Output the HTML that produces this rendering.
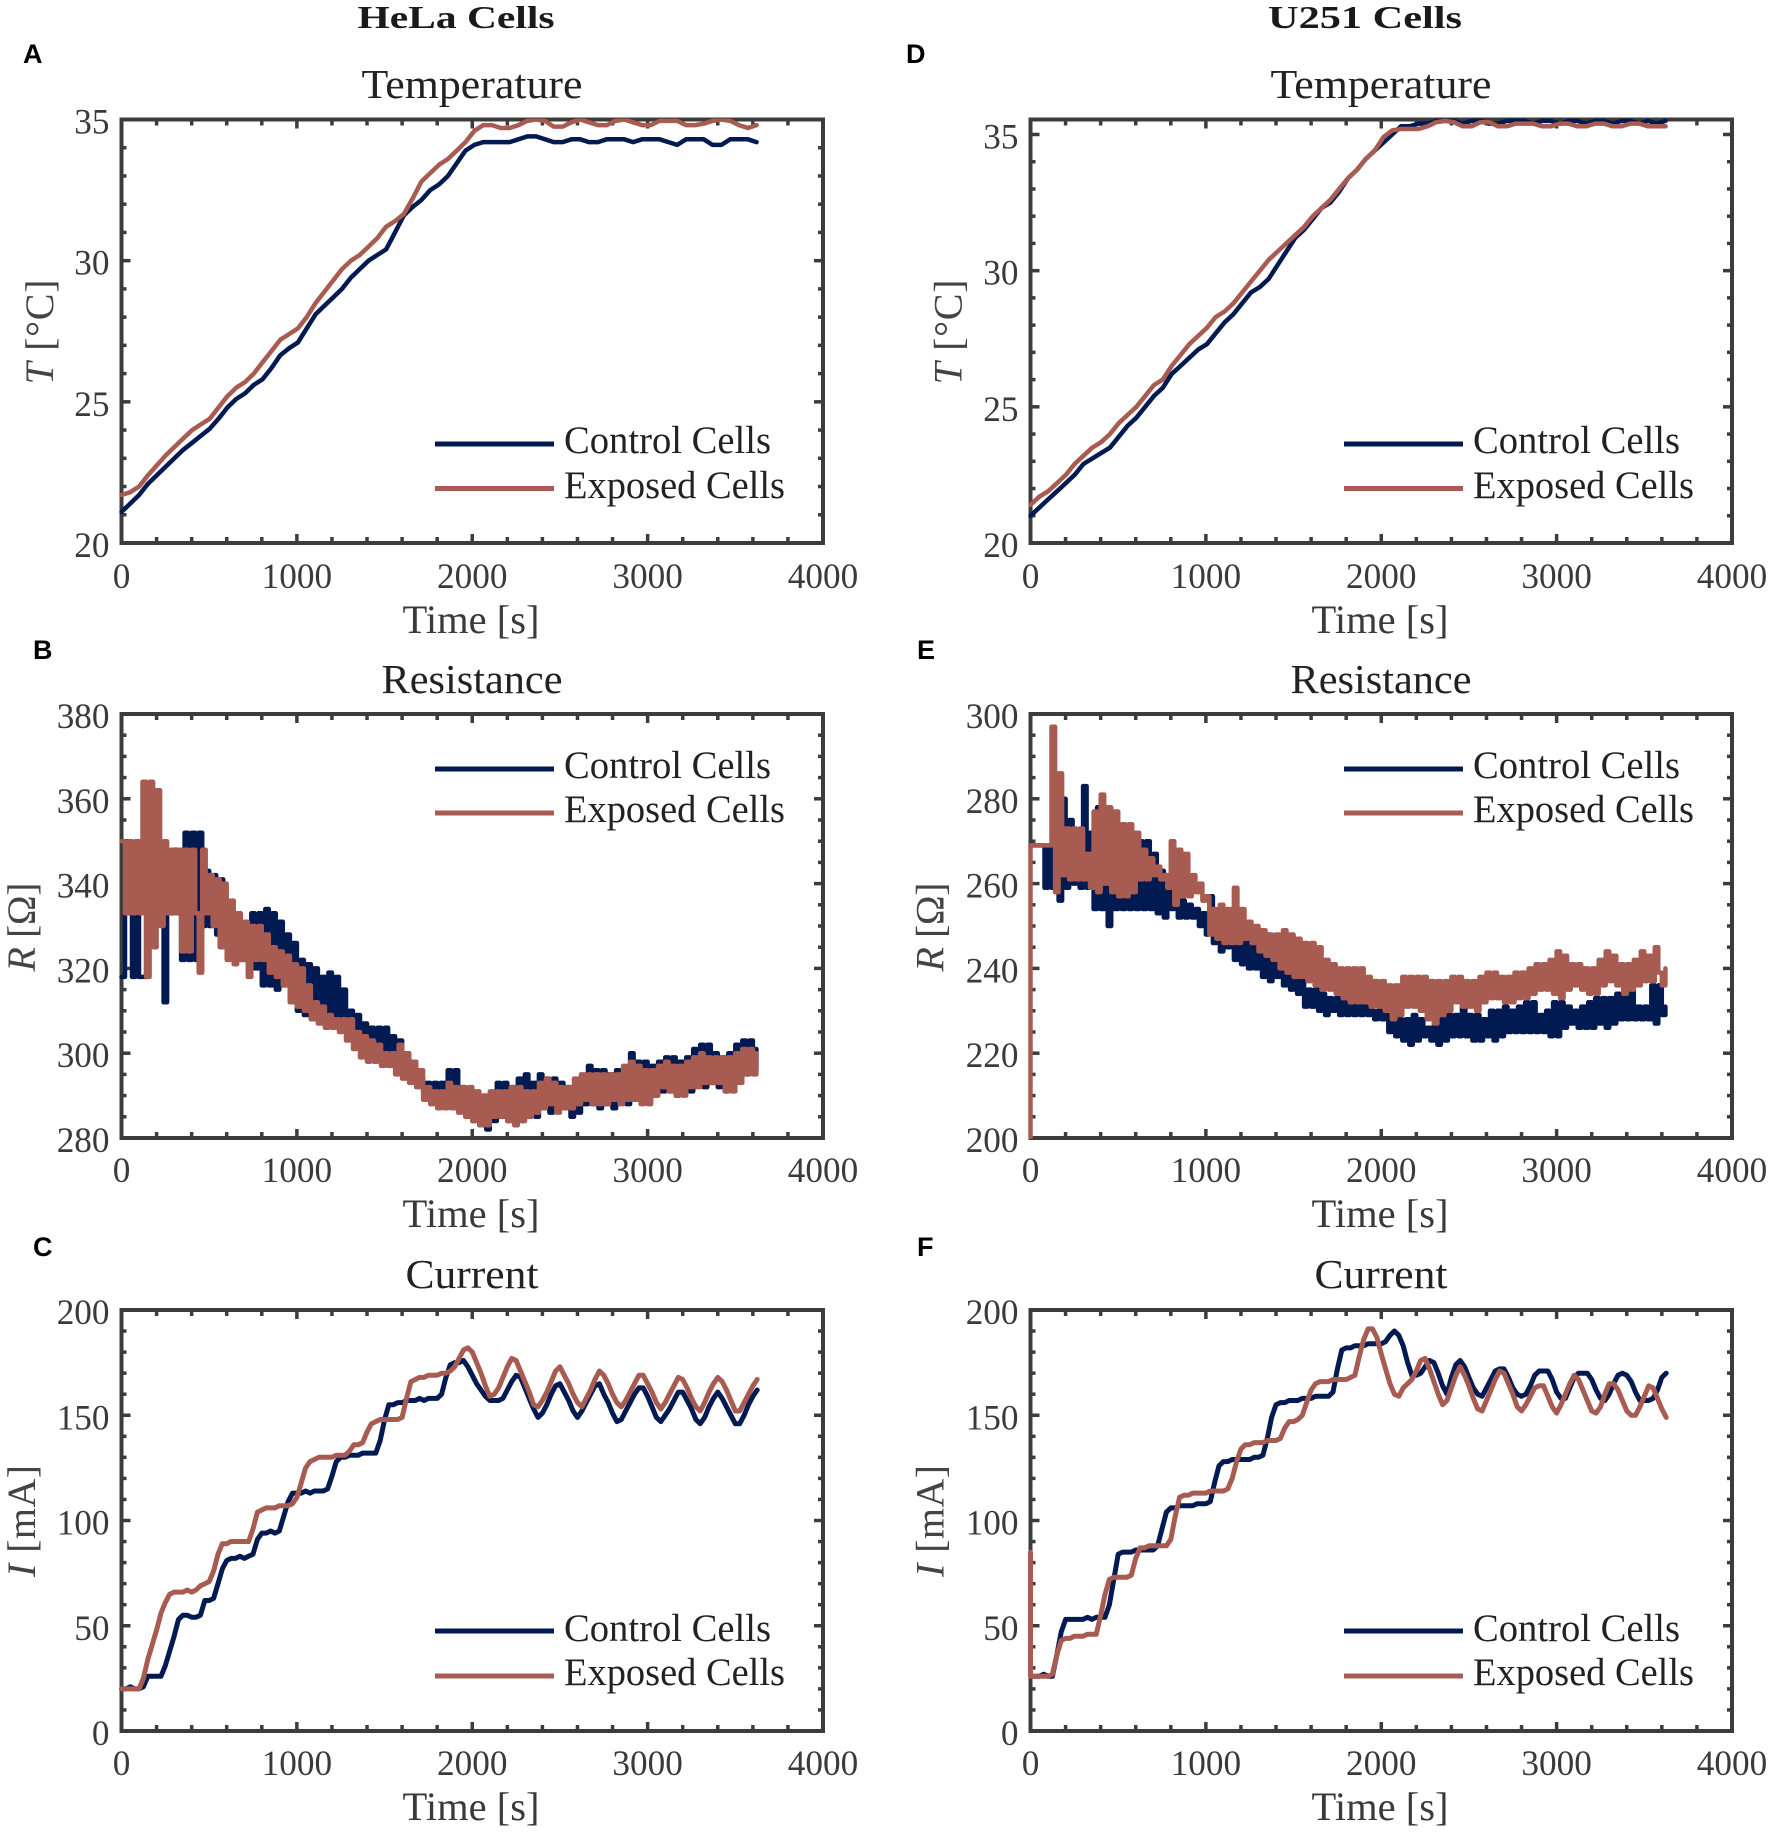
<!DOCTYPE html>
<html lang="en">
<head>
<meta charset="utf-8">
<title>HeLa and U251 cell temperature, resistance and current</title>
<style>
html,body{margin:0;padding:0;background:#fff;}
svg{display:block;}
text{font-family:"Liberation Serif",serif;fill:#333;}
.head{font-size:32px;font-weight:bold;fill:#1a1a1a;text-anchor:middle;}
.letter{font-family:"Liberation Sans",sans-serif;font-size:27px;font-weight:bold;fill:#000;}
.title{font-size:41px;fill:#222;text-anchor:middle;}
.xlab{font-size:40px;fill:#3a3a3a;text-anchor:middle;}
.ylab{font-size:40px;fill:#444;text-anchor:middle;}
.tick{font-size:36px;fill:#3a3a3a;}
.leg{font-size:39px;fill:#222;}
.swc{stroke:#021a52;stroke-width:5;}
.swe{stroke:#a85b50;stroke-width:5;}
</style>
</head>
<body>
<svg id="figure" xmlns="http://www.w3.org/2000/svg" width="1772" height="1834" viewBox="0 0 1772 1834">
<rect width="1772" height="1834" fill="#fff"/>
<text class="head" x="456" y="28" textLength="197" lengthAdjust="spacingAndGlyphs">HeLa Cells</text>
<text class="head" x="1365" y="28" textLength="194" lengthAdjust="spacingAndGlyphs">U251 Cells</text>

<g id="panel-a">
<text class="letter" x="23" y="63">A</text>
<text class="title" x="472" y="98" textLength="221" lengthAdjust="spacingAndGlyphs">Temperature</text>
<text class="xlab" x="471" y="633" textLength="137" lengthAdjust="spacingAndGlyphs">Time [s]</text>
<text class="ylab" transform="translate(53,332) rotate(-90)" textLength="105" lengthAdjust="spacing"><tspan font-style="italic">T</tspan> [°C]</text>
<g>
<line class="swc" x1="435" x2="554" y1="444" y2="444"/>
<text class="leg" x="564" y="453" textLength="207" lengthAdjust="spacingAndGlyphs">Control Cells</text>
<line class="swe" x1="435" x2="554" y1="488.5" y2="488.5"/>
<text class="leg" x="564" y="498" textLength="221" lengthAdjust="spacingAndGlyphs">Exposed Cells</text>
</g>
</g>

<g id="panel-b">
<text class="letter" x="33" y="659">B</text>
<text class="title" x="472" y="693" textLength="181" lengthAdjust="spacingAndGlyphs">Resistance</text>
<text class="xlab" x="471" y="1227" textLength="137" lengthAdjust="spacingAndGlyphs">Time [s]</text>
<text class="ylab" transform="translate(35,927) rotate(-90)" textLength="89" lengthAdjust="spacing"><tspan font-style="italic">R</tspan> [Ω]</text>
<g>
<line class="swc" x1="435" x2="554" y1="769" y2="769"/>
<text class="leg" x="564" y="778" textLength="207" lengthAdjust="spacingAndGlyphs">Control Cells</text>
<line class="swe" x1="435" x2="554" y1="813" y2="813"/>
<text class="leg" x="564" y="822" textLength="221" lengthAdjust="spacingAndGlyphs">Exposed Cells</text>
</g>
</g>

<g id="panel-c">
<text class="letter" x="33" y="1256">C</text>
<text class="title" x="472" y="1288" textLength="133" lengthAdjust="spacingAndGlyphs">Current</text>
<text class="xlab" x="471" y="1820" textLength="137" lengthAdjust="spacingAndGlyphs">Time [s]</text>
<text class="ylab" transform="translate(35,1521) rotate(-90)" textLength="112" lengthAdjust="spacing"><tspan font-style="italic">I</tspan> [mA]</text>
<g>
<line class="swc" x1="435" x2="554" y1="1631" y2="1631"/>
<text class="leg" x="564" y="1641" textLength="207" lengthAdjust="spacingAndGlyphs">Control Cells</text>
<line class="swe" x1="435" x2="554" y1="1676" y2="1676"/>
<text class="leg" x="564" y="1685" textLength="221" lengthAdjust="spacingAndGlyphs">Exposed Cells</text>
</g>
</g>

<g id="panel-d">
<text class="letter" x="906" y="63">D</text>
<text class="title" x="1381" y="98" textLength="221" lengthAdjust="spacingAndGlyphs">Temperature</text>
<text class="xlab" x="1380" y="633" textLength="137" lengthAdjust="spacingAndGlyphs">Time [s]</text>
<text class="ylab" transform="translate(961.5,332) rotate(-90)" textLength="105" lengthAdjust="spacing"><tspan font-style="italic">T</tspan> [°C]</text>
<g>
<line class="swc" x1="1344" x2="1463" y1="444" y2="444"/>
<text class="leg" x="1473" y="453" textLength="207" lengthAdjust="spacingAndGlyphs">Control Cells</text>
<line class="swe" x1="1344" x2="1463" y1="488.5" y2="488.5"/>
<text class="leg" x="1473" y="498" textLength="221" lengthAdjust="spacingAndGlyphs">Exposed Cells</text>
</g>
</g>

<g id="panel-e">
<text class="letter" x="917" y="659">E</text>
<text class="title" x="1381" y="693" textLength="181" lengthAdjust="spacingAndGlyphs">Resistance</text>
<text class="xlab" x="1380" y="1227" textLength="137" lengthAdjust="spacingAndGlyphs">Time [s]</text>
<text class="ylab" transform="translate(943.5,927) rotate(-90)" textLength="89" lengthAdjust="spacing"><tspan font-style="italic">R</tspan> [Ω]</text>
<g>
<line class="swc" x1="1344" x2="1463" y1="769" y2="769"/>
<text class="leg" x="1473" y="778" textLength="207" lengthAdjust="spacingAndGlyphs">Control Cells</text>
<line class="swe" x1="1344" x2="1463" y1="813" y2="813"/>
<text class="leg" x="1473" y="822" textLength="221" lengthAdjust="spacingAndGlyphs">Exposed Cells</text>
</g>
</g>

<g id="panel-f">
<text class="letter" x="917" y="1256">F</text>
<text class="title" x="1381" y="1288" textLength="133" lengthAdjust="spacingAndGlyphs">Current</text>
<text class="xlab" x="1380" y="1820" textLength="137" lengthAdjust="spacingAndGlyphs">Time [s]</text>
<text class="ylab" transform="translate(943.5,1521) rotate(-90)" textLength="112" lengthAdjust="spacing"><tspan font-style="italic">I</tspan> [mA]</text>
<g>
<line class="swc" x1="1344" x2="1463" y1="1631" y2="1631"/>
<text class="leg" x="1473" y="1641" textLength="207" lengthAdjust="spacingAndGlyphs">Control Cells</text>
<line class="swe" x1="1344" x2="1463" y1="1676" y2="1676"/>
<text class="leg" x="1473" y="1685" textLength="221" lengthAdjust="spacingAndGlyphs">Exposed Cells</text>
</g>
</g>
</svg>

<script>
// Sampling interval in seconds for each measurement type
const temperatureStep = 50.3;
const resistanceStep = 20;
const currentStep = 25;

// Tick labels
const timeTicks = [0, 1000, 2000, 3000, 4000];
const temperatureTicksHela = [20, 25, 30, 35];
const temperatureTicksU251 = [20, 25, 30, 35];
const resistanceTicksHela = [280, 300, 320, 340, 360, 380];
const resistanceTicksU251 = [200, 220, 240, 260, 280, 300];
const currentTicks = [0, 50, 100, 150, 200];

// Panel A, HeLa temperature
const helaTempControl = [
21.1,21.4,21.7,22.1,22.4,22.7,23.0,23.3,23.55,23.8,
24.05,24.4,24.8,25.1,25.3,25.6,25.8,26.2,26.65,26.9,
27.1,27.6,28.1,28.4,28.7,29.0,29.4,29.7,30.0,30.2,
30.4,31.0,31.6,31.9,32.15,32.5,32.7,33.0,33.45,33.9,
34.1,34.2,34.2,34.2,34.2,34.3,34.4,34.4,34.3,34.2,
34.2,34.3,34.3,34.2,34.2,34.3,34.3,34.3,34.2,34.3,
34.3,34.3,34.2,34.1,34.3,34.3,34.3,34.1,34.1,34.3,
34.3,34.3,34.2];
const helaTempExposed = [
21.7,21.8,22.0,22.4,22.75,23.1,23.4,23.7,24.0,24.2,
24.4,24.8,25.2,25.5,25.7,26.0,26.4,26.8,27.2,27.4,
27.6,28.0,28.5,28.9,29.3,29.7,30.0,30.2,30.5,30.8,
31.2,31.4,31.65,32.2,32.8,33.1,33.4,33.6,33.9,34.2,
34.6,34.8,34.8,34.7,34.7,34.8,34.95,35,34.95,34.75,
34.75,34.9,35,34.9,34.8,34.8,34.95,35,34.9,34.8,
34.8,34.95,34.95,34.95,34.8,34.8,34.85,34.95,35,34.95,
34.8,34.7,34.8];

// Panel D, U251 temperature
const u251TempControl = [
21.0,21.3,21.6,21.9,22.2,22.5,22.9,23.1,23.3,23.5,
23.9,24.3,24.6,25.0,25.4,25.7,26.2,26.5,26.8,27.1,
27.3,27.7,28.1,28.4,28.8,29.2,29.4,29.7,30.2,30.7,
31.2,31.5,31.9,32.3,32.5,32.9,33.4,33.7,34.1,34.4,
34.7,35.0,35.3,35.3,35.4,35.4,35.5,35.5,35.5,35.4,
35.5,35.5,35.4,35.4,35.5,35.5,35.5,35.4,35.5,35.5,
35.4,35.5,35.5,35.4,35.5,35.5,35.4,35.5,35.5,35.4,
35.5,35.4,35.5];
const u251TempExposed = [
21.4,21.7,21.9,22.2,22.5,22.9,23.2,23.5,23.7,24.0,
24.4,24.7,25.0,25.4,25.8,26.0,26.5,26.9,27.3,27.6,
27.9,28.3,28.5,28.8,29.2,29.6,30.0,30.4,30.7,31.0,
31.3,31.6,32.0,32.3,32.6,33.0,33.4,33.7,34.1,34.4,
34.9,35.15,35.2,35.2,35.2,35.3,35.45,35.5,35.45,35.3,
35.3,35.45,35.45,35.3,35.3,35.4,35.4,35.4,35.3,35.3,
35.4,35.4,35.3,35.3,35.4,35.4,35.3,35.3,35.4,35.4,
35.3,35.3,35.3];

// Panel B, HeLa resistance
const helaResControl = [
318,350,333,318,350,318,318,350,333,350,
350,333,312,344,333,348,333,322,352,322,
352,322,352,330,343,330,342,328,341,326,
331,331,324,329,322,329,321,333,320,333,
316,334,316,333,315,331,316,328,312,326,
310,322,309,321,308,320,308,318,307,319,
307,318,306,315,306,310,304,309,304,307,
302,306,300,306,299,306,299,304,298,303,
296,300,294,298,293,294,291,293,290,293,
288,293,288,296,289,296,287,292,286,291,
284,290,283,290,282,289,284,293,285,293,
284,292,285,294,284,295,286,293,285,295,
287,294,286,294,288,293,287,292,285,292,
286,293,288,297,288,296,287,296,288,295,
287,296,289,295,288,300,289,298,290,298,
289,297,290,298,291,299,291,299,290,298,
292,299,291,301,293,302,292,302,293,300,
292,299,291,300,294,302,294,303,295,303,
296,301];
const helaResExposed = [
350,333,350,333,350,333,364,318,364,325,
362,330,350,333,348,333,348,324,348,324,
348,333,319,348,333,342,330,341,325,340,
322,336,321,333,322,331,318,330,322,330,
322,328,319,325,318,324,316,323,312,321,
311,320,310,316,308,312,307,311,306,309,
306,308,305,308,303,308,301,305,299,304,
298,303,298,302,297,300,297,300,295,302,
294,300,293,298,292,296,289,292,288,291,
287,291,287,293,287,292,286,292,285,292,
284,291,283,290,283,291,285,291,285,291,
284,292,283,292,284,291,285,291,286,293,
287,294,288,293,286,292,287,292,287,294,
288,295,289,295,288,295,288,295,288,295,
289,295,288,297,289,298,289,297,288,296,
288,296,290,297,292,298,291,297,290,297,
290,298,292,299,292,300,293,299,293,299,
293,299,291,299,291,300,293,301,295,301,
295,300];

// Panel E, U251 resistance
const u251ResControl = [
269,269,269,269,259,269,259,269,256,280,
259,275,260,270,259,283,259,272,254,278,
254,262,250,262,254,262,254,268,254,270,
254,270,254,270,254,267,253,263,252,262,
254,256,252,256,252,255,252,254,250,253,
248,257,246,252,244,252,245,252,242,246,
241,248,240,248,240,247,238,248,237,246,
238,241,236,240,235,238,234,237,231,235,
231,235,230,234,229,233,230,233,229,232,
229,232,229,232,229,231,229,230,228,230,
228,229,225,229,224,228,223,228,222,229,
223,228,224,226,223,227,222,228,223,229,
224,229,224,231,224,229,223,229,223,228,
224,230,223,230,224,231,225,230,225,231,
225,232,225,232,225,229,225,230,224,232,
224,232,226,231,227,230,226,231,226,232,
226,233,227,233,226,233,227,234,228,234,
228,236,228,231,228,231,228,236,227,236,
229,231];
const u251ResExposed = [
200,269,269,269,269,269,297,258,286,262,
273,261,273,261,273,261,267,259,277,258,
281,260,278,258,277,257,274,257,274,258,
272,261,268,261,266,262,264,261,262,259,
270,255,268,257,267,257,262,258,260,256,
257,248,254,247,255,246,254,246,259,246,
254,247,251,246,250,244,249,243,248,242,
248,240,249,239,248,238,247,238,246,237,
246,236,245,235,242,235,241,234,240,233,
240,232,240,232,240,232,238,231,237,231,
237,230,236,228,236,229,238,231,238,231,
238,230,238,228,237,227,237,229,237,230,
238,232,238,231,237,231,237,230,238,232,
239,233,239,233,238,232,238,232,239,233,
239,233,240,234,241,235,241,235,242,234,
244,233,243,235,241,236,241,235,240,234,
240,234,242,236,244,237,243,236,241,234,
241,235,242,236,244,237,243,237,245,239,
236,240];

// Panel C, HeLa current
const helaCurControl = [
20,20,21,20,20,21,26,26,26,26,31,38,45,53,55,55,54,54,55,62,
62,63,70,77,81,82,82,83,82,83,84,91,94,94,95,94,95,102,109,113,
113,113,114,113,114,114,114,115,121,128,130,130,131,131,131,132,132,132,132,138,
148,155,155,156,156,157,157,157,158,157,158,158,158,160,168,174,175,175,176,173,
169,165,162,159,157,157,157,158,162,166,169,168,163,158,153,149,151,155,160,164,
165,161,157,152,149,152,156,160,164,165,160,156,151,147,148,152,156,160,163,163,
159,154,149,147,150,153,157,161,161,157,153,148,146,149,154,158,161,158,154,150,
146,146,150,155,159,162];
const helaCurExposed = [
20,20,20,20,20,25,34,41,48,56,61,65,66,66,66,67,66,67,69,70,
71,76,84,89,89,90,90,90,90,90,96,104,105,106,106,106,107,107,107,108,
111,118,125,128,129,130,130,130,130,131,131,131,133,136,136,137,142,146,147,148,
148,148,148,148,149,158,166,167,168,168,169,169,169,170,170,171,173,177,181,182,
180,175,170,164,159,160,163,168,173,177,176,171,166,161,155,154,157,161,166,171,
173,169,165,160,156,154,158,162,167,171,169,165,160,156,154,157,161,165,169,169,
165,161,156,153,156,160,164,168,167,163,158,154,152,156,161,165,168,166,162,157,
152,152,156,160,164,167];

// Panel F, U251 current
const u251CurControl = [
26,26,26,27,26,26,36,47,53,53,53,53,53,54,53,54,54,54,60,72,
84,85,85,85,86,86,86,86,86,88,96,104,106,106,107,107,107,107,108,108,
108,109,118,126,128,128,129,129,129,129,129,130,130,131,139,149,155,156,156,157,
157,157,158,158,158,159,159,159,159,161,172,181,182,182,183,183,183,184,184,184,
184,185,188,190,188,183,175,169,169,170,173,176,175,170,164,160,168,174,176,173,
168,163,160,159,163,167,171,172,172,168,163,160,159,160,164,169,171,171,171,167,
161,158,158,163,168,170,170,170,167,162,158,157,160,165,169,170,169,166,161,157,
157,157,158,162,168,170];
const u251CurExposed = [
85,26,26,26,26,27,36,43,44,44,45,45,45,46,46,46,55,65,72,73,
73,73,73,74,82,87,87,88,88,88,88,88,91,102,111,112,112,113,113,113,
113,114,114,114,114,115,120,128,134,136,136,137,137,137,138,138,138,139,144,147,
147,148,150,156,162,165,166,166,166,167,167,167,167,168,169,178,186,191,191,187,
179,172,165,160,159,163,165,167,171,176,177,172,166,160,155,157,163,169,173,169,
164,158,153,152,157,162,167,171,170,165,160,154,152,155,159,163,164,164,159,154,
151,155,160,165,169,167,162,157,152,151,154,160,165,165,162,157,152,150,150,154,
159,164,163,158,153,149];

const SVG_NS = 'http://www.w3.org/2000/svg';
const COLOR_CONTROL = '#021a52';
const COLOR_EXPOSED = '#a85b50';
const AXIS_COLOR = '#3c3c3c';

function scale(d0, d1, r0, r1) {
  return function (v) { return r0 + (v - d0) / (d1 - d0) * (r1 - r0); };
}

function createTick(parent, x1, y1, x2, y2, width) {
  const el = document.createElementNS(SVG_NS, 'line');
  
  
  el.setAttribute('x1', x1);
  el.setAttribute('y1', y1);
  el.setAttribute('x2', x2);
  el.setAttribute('y2', y2);
  el.setAttribute('stroke', AXIS_COLOR);
  el.setAttribute('stroke-width', width);
  parent.appendChild(el);
}

function createLabel(parent, x, y, anchor, content) {
  const el = document.createElementNS(SVG_NS, 'text');
  
  
  el.setAttribute('class', 'tick');
  el.setAttribute('x', x);
  el.setAttribute('y', y);
  el.setAttribute('text-anchor', anchor);
  el.setAttribute('textLength', (content.length * 17.6).toFixed(1));
  el.setAttribute('lengthAdjust', 'spacingAndGlyphs');
  el.textContent = content;
  parent.appendChild(el);
}

// Panels with a settling transient jump vertically at t = 0. Stepped panels
// (noisy resistance readings) also hold each reading until the next sample,
// then jump vertically at that sample's time.
function seriesPoints(values, step, xs, ys, stepped, jumpStart) {
  const pts = [];
  values.forEach(function (v, i) {
    if (i === 1 && jumpStart) {
      pts.push(xs(0).toFixed(1) + ',' + ys(v).toFixed(1));
    } else if (stepped && i > 0) {
      pts.push(xs(i * step).toFixed(1) + ',' + ys(values[i - 1]).toFixed(1));
    }
    pts.push(xs(i * step).toFixed(1) + ',' + ys(v).toFixed(1));
  });
  return pts.join(' ');
}

function drawSeries(parent, values, cfg, xs, ys, color, name) {
  const el = document.createElementNS(SVG_NS, 'polyline');
  
  
  el.setAttribute('points', seriesPoints(values, cfg.step, xs, ys, cfg.stepped, cfg.jumpStart));
  el.setAttribute('fill', 'none');
  el.setAttribute('stroke', color);
  el.setAttribute('stroke-width', cfg.lineWidth);
  el.setAttribute('stroke-linejoin', 'round');
  el.setAttribute('stroke-linecap', 'round');
  el.setAttribute('clip-path', 'url(#' + cfg.id + '-clip)');
  parent.appendChild(el);
}

function drawPanel(cfg) {
  const root = document.getElementById(cfg.id);
  const left = cfg.left, right = cfg.left + 701.5, top = cfg.top, bottom = cfg.bottom;
  const xs = scale(0, 4000, left, right);
  const ys = scale(cfg.yMin, cfg.yMax, bottom, top);

  const clip = document.createElementNS(SVG_NS, 'clipPath');
  clip.setAttribute('id', cfg.id + '-clip');
  const clipRect = document.createElementNS(SVG_NS, 'rect');
  clipRect.setAttribute('x', left - 2.5);
  clipRect.setAttribute('y', top - 1);
  clipRect.setAttribute('width', right - left + 5);
  clipRect.setAttribute('height', bottom - top + 2);
  clip.appendChild(clipRect);
  root.appendChild(clip);

  const axes = document.createElementNS(SVG_NS, 'g');
  
  
  root.appendChild(axes);

  for (let t = 0; t <= 4000; t += 200) {
    const major = t % 1000 === 0;
    const len = major ? 9 : 6;
    createTick(axes, xs(t), bottom, xs(t), bottom - len, 3.5);
    createTick(axes, xs(t), top, xs(t), top + len, 3.5);
  }
  const firstMinor = Math.ceil(cfg.yMin / cfg.yMinor) * cfg.yMinor;
  for (let v = firstMinor; v <= cfg.yMax + 1e-6; v += cfg.yMinor) {
    const major = cfg.yTicks.indexOf(v) >= 0;
    const len = major ? 9 : 5;
    createTick(axes, left, ys(v), left + len, ys(v), 3.5);
    createTick(axes, right, ys(v), right - len, ys(v), 3.5);
  }

  const frame = document.createElementNS(SVG_NS, 'rect');
  
  
  frame.setAttribute('x', left);
  frame.setAttribute('y', top);
  frame.setAttribute('width', right - left);
  frame.setAttribute('height', bottom - top);
  frame.setAttribute('fill', 'none');
  frame.setAttribute('stroke', AXIS_COLOR);
  frame.setAttribute('stroke-width', 4);
  axes.appendChild(frame);

  timeTicks.forEach(function (t) {
    createLabel(axes, xs(t), cfg.xLabelY, 'middle', String(t));
  });
  cfg.yTicks.forEach(function (v) {
    createLabel(axes, left - 12, ys(v) + 14, 'end', String(v));
  });

  drawSeries(root, cfg.control, cfg, xs, ys, COLOR_CONTROL, 'control-cells-line');
  drawSeries(root, cfg.exposed, cfg, xs, ys, COLOR_EXPOSED, 'exposed-cells-line');
}

drawPanel({id:'panel-a', left:121.5, top:119.5, bottom:543,  yMin:20,  yMax:35,    yMinor:1,  yTicks:temperatureTicksHela, control:helaTempControl, exposed:helaTempExposed, step:temperatureStep, stepped:false, jumpStart:false, lineWidth:4.5, xLabelY:588});
drawPanel({id:'panel-b', left:121.5, top:714,   bottom:1138, yMin:280, yMax:380,   yMinor:5,  yTicks:resistanceTicksHela,  control:helaResControl,  exposed:helaResExposed,  step:resistanceStep,  stepped:true,  jumpStart:false, lineWidth:4.5, xLabelY:1182});
drawPanel({id:'panel-c', left:121.5, top:1310,  bottom:1731, yMin:0,   yMax:200,   yMinor:10, yTicks:currentTicks,         control:helaCurControl,  exposed:helaCurExposed,  step:currentStep,     stepped:false, jumpStart:false, lineWidth:5,   xLabelY:1775});
drawPanel({id:'panel-d', left:1030.5,top:119.5, bottom:543,  yMin:20,  yMax:35.55, yMinor:1,  yTicks:temperatureTicksU251, control:u251TempControl, exposed:u251TempExposed, step:temperatureStep, stepped:false, jumpStart:false, lineWidth:4.5, xLabelY:588});
drawPanel({id:'panel-e', left:1030.5,top:714,   bottom:1138, yMin:200, yMax:300,   yMinor:5,  yTicks:resistanceTicksU251,  control:u251ResControl,  exposed:u251ResExposed,  step:resistanceStep,  stepped:true,  jumpStart:true,  lineWidth:4.5, xLabelY:1182});
drawPanel({id:'panel-f', left:1030.5,top:1310,  bottom:1731, yMin:0,   yMax:200,   yMinor:10, yTicks:currentTicks,         control:u251CurControl,  exposed:u251CurExposed,  step:currentStep,     stepped:false, jumpStart:true,  lineWidth:5,   xLabelY:1775});
</script>
</body>
</html>
